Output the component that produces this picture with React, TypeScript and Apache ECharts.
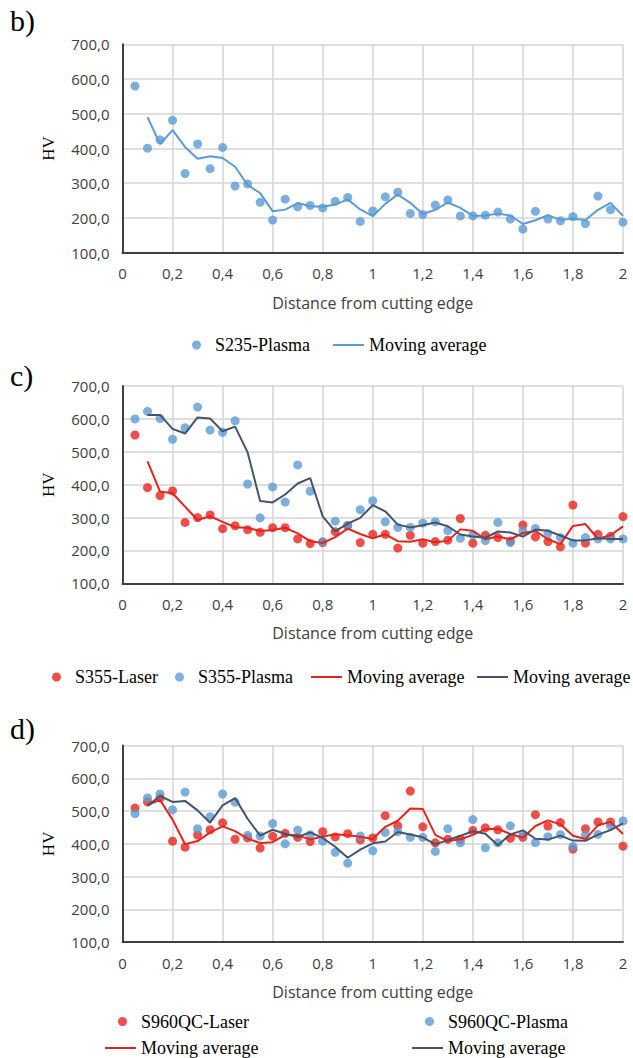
import React, { useEffect, useRef } from "react";
import * as echarts from "echarts";

// Distance from cutting edge (x positions of the measurements)
const DIST = [
  0.05, 0.1, 0.15, 0.2, 0.25, 0.3, 0.35, 0.4, 0.45, 0.5,
  0.55, 0.6, 0.65, 0.7, 0.75, 0.8, 0.85, 0.9, 0.95, 1.0,
  1.05, 1.1, 1.15, 1.2, 1.25, 1.3, 1.35, 1.4, 1.45, 1.5,
  1.55, 1.6, 1.65, 1.7, 1.75, 1.8, 1.85, 1.9, 1.95, 2.0,
];

const X_TICK_LABELS = ["0", "0,2", "0,4", "0,6", "0,8", "1", "1,2", "1,4", "1,6", "1,8", "2"];
const Y_TICK_LABELS = ["100,0", "200,0", "300,0", "400,0", "500,0", "600,0", "700,0"];

// b) S235
const S235_PLASMA = [
  580, 401, 425, 481, 328, 413, 342, 403, 292, 298,
  245, 194, 254, 232, 236, 229, 248, 259, 190, 220,
  261, 274, 213, 210, 237, 252, 206, 206, 208, 217,
  197, 168, 219, 197, 192, 204, 184, 263, 224, 188,
];

// c) S355
const S355_LASER = [
  551, 391, 367, 381, 285, 300, 308, 266, 275, 263,
  255, 269, 269, 235, 221, 224, 257, 276, 224, 249,
  249, 207, 246, 222, 227, 231, 297, 222, 246, 239,
  229, 277, 241, 227, 211, 338, 222, 249, 243, 303,
];
const S355_PLASMA = [
  600, 623, 601, 538, 573, 636, 566, 559, 594, 402,
  299, 393, 347, 460, 380, 227, 289, 274, 324, 351,
  287, 270, 270, 283, 287, 260, 237, 247, 230, 285,
  224, 260, 267, 252, 239, 222, 239, 235, 235, 235,
];

// d) S960QC
const S960_LASER = [
  509, 528, 540, 408, 390, 427, 443, 464, 414, 418,
  387, 423, 432, 420, 407, 437, 421, 431, 412, 418,
  486, 455, 561, 452, 403, 414, 414, 441, 449, 443,
  417, 420, 489, 454, 465, 384, 446, 467, 467, 393,
];
const S960_PLASMA = [
  492, 540, 552, 504, 558, 446, 483, 552, 527, 426,
  424, 462, 400, 442, 428, 408, 374, 341, 424, 379,
  435, 437, 420, 420, 377, 446, 403, 474, 388, 403,
  455, 427, 404, 422, 428, 392, 427, 429, 455, 470,
];

const BLUE = "#5B9BD5";
const RED = "#E8231C";
const NAVY = "#44546A";
const SANS = "Open Sans";
const SERIF = "Liberation Serif";

// Excel 2-period moving average trendline built from the measured points
function movingAverage(vals: number[]): number[][] {
  const out: number[][] = [];
  for (let i = 1; i < vals.length; i++) out.push([DIST[i], (vals[i - 1] + vals[i]) / 2]);
  return out;
}
function pts(vals: number[]): number[][] {
  return vals.map((v, i) => [DIST[i], v]);
}

export default function App() {
  const ref = useRef<HTMLDivElement>(null);

  useEffect(() => {
    document.body.style.margin = "0";
    if (!ref.current) return;
    const chart = echarts.init(ref.current, undefined, { renderer: "svg" });

    const grids = [
      { left: 122.5, width: 500.5, top: 44.3, height: 208.4 },
      { left: 122.5, width: 500.5, top: 386, height: 197.3 },
      { left: 122.5, width: 500.5, top: 745.5, height: 196.7 },
    ];

    const xAxes = grids.map((_, i) => ({
      type: "value",
      gridIndex: i,
      min: 0,
      max: 2,
      interval: 0.2,
      axisLine: { show: true, onZero: false, lineStyle: { color: "#404040", width: 2 } },
      axisTick: { show: false },
      splitLine: { show: true, lineStyle: { color: "#D4D4D4", width: 1.5 } },
      axisLabel: {
        formatter: (v: number) => X_TICK_LABELS[Math.round(v / 0.2)],
        fontFamily: SANS,
        fontSize: 15,
        color: "#404040",
        margin: 13,
      },
      name: "Distance from cutting edge",
      nameLocation: "middle",
      nameGap: 42,
      nameTextStyle: { fontFamily: SANS, fontSize: 16, color: "#404040" },
    }));

    const yAxes = grids.map((_, i) => ({
      type: "value",
      gridIndex: i,
      min: 100,
      max: 700,
      interval: 100,
      axisLine: { show: true, lineStyle: { color: "#404040", width: 2 } },
      axisTick: { show: false },
      splitLine: { show: true, lineStyle: { color: "#D4D4D4", width: 1.5 } },
      axisLabel: {
        formatter: (v: number) => Y_TICK_LABELS[Math.round(v / 100) - 1],
        fontFamily: SANS,
        fontSize: 15,
        color: "#404040",
        margin: 13,
      },
      name: "HV",
      nameLocation: "middle",
      nameRotate: 90,
      nameGap: 66,
      nameTextStyle: { fontFamily: SERIF, fontSize: 17, color: "#000" },
    }));

    const scatter = (name: string, vals: number[], color: string, gi: number) => ({
      type: "scatter",
      name,
      xAxisIndex: gi,
      yAxisIndex: gi,
      data: pts(vals),
      symbol: "circle",
      symbolSize: 9,
      itemStyle: { color },
    });
    const maLine = (name: string, vals: number[], color: string, gi: number) => ({
      type: "line",
      name,
      xAxisIndex: gi,
      yAxisIndex: gi,
      data: movingAverage(vals),
      symbol: "none",
      showSymbol: false,
      lineStyle: { color, width: 2 },
      itemStyle: { color },
    });

    const series = [
      scatter("S235-Plasma", S235_PLASMA, BLUE, 0),
      maLine("MA-b", S235_PLASMA, BLUE, 0),
      scatter("S355-Laser", S355_LASER, RED, 1),
      scatter("S355-Plasma", S355_PLASMA, BLUE, 1),
      maLine("MA-c-laser", S355_LASER, RED, 1),
      maLine("MA-c-plasma", S355_PLASMA, NAVY, 1),
      scatter("S960QC-Laser", S960_LASER, RED, 2),
      scatter("S960QC-Plasma", S960_PLASMA, BLUE, 2),
      maLine("MA-d-laser", S960_LASER, RED, 2),
      maLine("MA-d-plasma", S960_PLASMA, NAVY, 2),
    ];

    const legendItem = (name: string, label: string, left: number, cy: number, dot: boolean) => ({
      data: [name],
      left,
      top: cy - 10,
      padding: 0,
      orient: "horizontal",
      selectedMode: false,
      itemWidth: dot ? 9 : 31,
      itemHeight: dot ? 9 : 2,
      icon: dot ? "circle" : "rect",
      formatter: () => label,
      textStyle: {
        fontFamily: SERIF,
        fontSize: 18,
        color: "#000",
        lineHeight: 20,
        padding: dot ? [0, 0, 0, 9] : [0, 0, 0, 0],
      },
    });

    const legends = [
      legendItem("S235-Plasma", "S235-Plasma", 192, 345, true),
      legendItem("MA-b", "Moving average", 333, 345, false),
      legendItem("S355-Laser", "S355-Laser", 52, 677, true),
      legendItem("S355-Plasma", "S355-Plasma", 175, 677, true),
      legendItem("MA-c-laser", "Moving average", 311, 677, false),
      legendItem("MA-c-plasma", "Moving average", 477, 677, false),
      legendItem("S960QC-Laser", "S960QC-Laser", 118, 1021.5, true),
      legendItem("S960QC-Plasma", "S960QC-Plasma", 425, 1021.5, true),
      legendItem("MA-d-laser", "Moving average", 105, 1048, false),
      legendItem("MA-d-plasma", "Moving average", 412, 1048, false),
    ];

    const panelLabel = (text: string, cy: number) => ({
      type: "text",
      left: 10,
      top: cy - 17,
      style: { text, fontFamily: SERIF, fontSize: 30, fill: "#000" },
    });

    chart.setOption({
      animation: false,
      backgroundColor: "#ffffff",
      grid: grids,
      xAxis: xAxes,
      yAxis: yAxes,
      legend: legends,
      series,
      graphic: [panelLabel("b)", 22), panelLabel("c)", 377), panelLabel("d)", 730)],
    });

    return () => chart.dispose();
  }, []);

  return (
    <div style={{ position: "absolute", left: 0, top: 0, width: 633, height: 1058, background: "#fff" }}>
      <div ref={ref} style={{ width: 633, height: 1058 }} />
    </div>
  );
}
